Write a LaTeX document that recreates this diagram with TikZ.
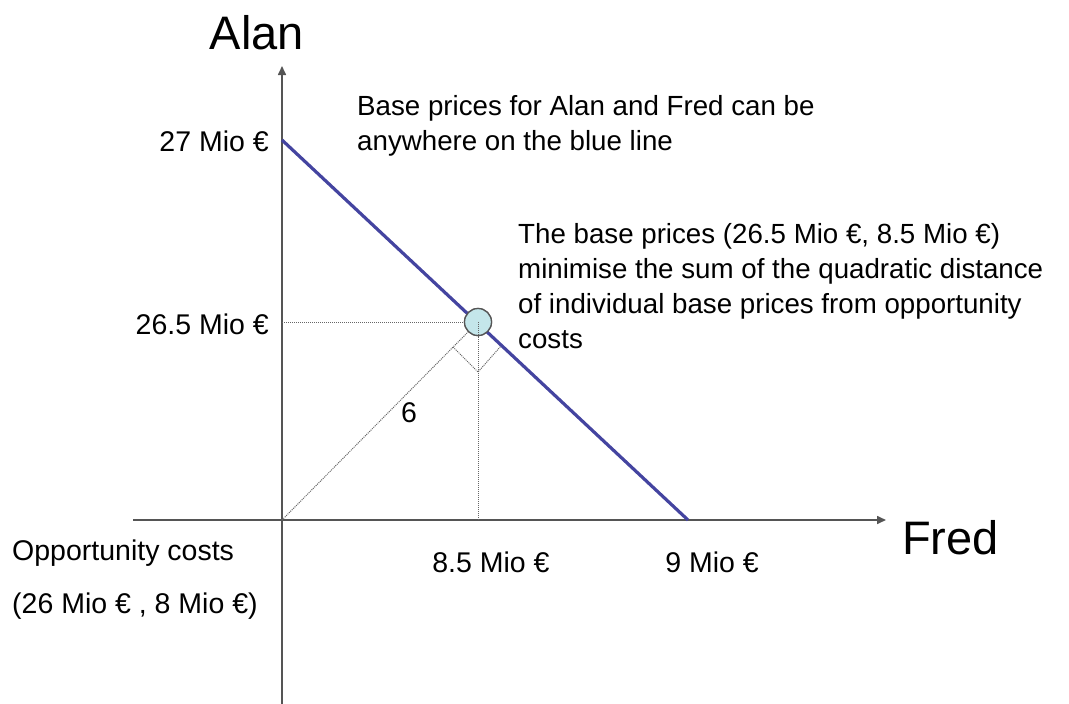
\documentclass[tikz,border=0pt]{standalone}
\usepackage{fontspec}
\setmainfont{Liberation Sans}
\usetikzlibrary{arrows.meta}
\definecolor{axisgray}{HTML}{555555}
\definecolor{lineblue}{HTML}{4444A0}
\definecolor{dotgray}{HTML}{666666}
\definecolor{pointfill}{HTML}{C4E6EA}
\begin{document}
\begin{tikzpicture}[x=1pt,y=-1pt,
  axis/.style={draw=axisgray,line width=1.6pt,-{Triangle[length=9pt,width=8pt]}},
  guide/.style={draw=dotgray,line width=1pt,densely dotted},
  lbl/.style={font=\fontsize{28.5}{35}\selectfont,inner sep=0pt},
  para/.style={font=\fontsize{27.7}{35}\selectfont,inner sep=0pt,align=left},
  big/.style={font=\fontsize{47}{50}\selectfont,inner sep=0pt},
  pt/.style={circle,draw=axisgray,line width=1.3pt,fill=pointfill,minimum size=27pt,inner sep=0pt}]
\useasboundingbox (0,0) rectangle (1069,704);
% coordinates
\coordinate (O) at (282,520);
\coordinate (ybot) at (282,706);
\coordinate (ytop) at (282,66);
\coordinate (xleft) at (133,520);
\coordinate (xright) at (886,520);
\coordinate (A27) at (282,140);
\coordinate (F9) at (688,520);
\coordinate (Y265) at (282,322);
\coordinate (X85) at (478,520);
\coordinate (ra1) at (453,347);
\coordinate (ra2) at (478,372);
\coordinate (ra3) at (501,346);
% axes
\draw[axis] (ybot) -- (ytop);
\draw[axis] (xleft) -- (xright);
% guides
\node[pt] (P0) at (478,322) {};
\draw[guide] (Y265) -- (P0.west);
\draw[guide] (X85) -- (P0.center);
\draw[guide] (O) -- (P0.225);
\draw[guide] (ra1) -- (ra2) -- (ra3);
% blue line
\draw[lineblue,line width=3.2pt] (A27) -- (F9);
\node[pt] (P) at (478,322) {};
\draw[guide] (P.center) -- (P.south);
% labels
\node[big,anchor=base] (alan) at (257,49) {Alan};
\node[big,anchor=base west] (fred) at (902,554) {Fred};
\node[lbl,anchor=base east] (l27) at (269,151) {27 Mio €};
\node[lbl,anchor=base east] (l265) at (269,334) {26.5 Mio €};
\node[lbl,anchor=base] (l85) at (491,572) {8.5 Mio €};
\node[lbl,anchor=base] (l9) at (712,572) {9 Mio €};
\node[lbl,anchor=base] (six) at (409,422) {6};
\node[para,anchor=base west] (t1) at (357,150) {Base prices for Alan and Fred can be\\anywhere on the blue line};
\node[para,anchor=base west] (t2) at (518,348) {The base prices (26.5 Mio €, 8.5 Mio €)\\minimise the sum of the quadratic distance\\of individual base prices from opportunity\\costs};
\node[lbl,anchor=base west] (oc1) at (12,560) {Opportunity costs};
\node[lbl,anchor=base west] (oc2) at (12,613) {(26 Mio € , 8 Mio €)};
\end{tikzpicture}
\end{document}
